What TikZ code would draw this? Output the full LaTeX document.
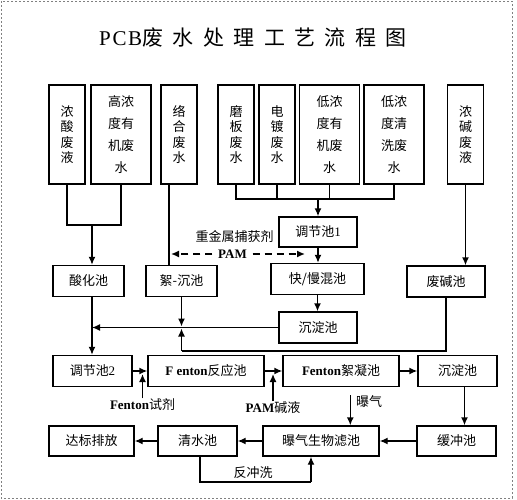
\documentclass[tikz,border=0pt]{standalone}
\usepackage{fontspec}
\setmainfont{Noto Sans CJK SC}
\newfontfamily\latin{Liberation Serif}
\newfontfamily\titlecjk[LetterSpace=45]{Noto Sans CJK SC}
\newfontfamily\titlelat[LetterSpace=8]{Liberation Serif}
\usetikzlibrary{arrows.meta,positioning}

\begin{document}
\begin{tikzpicture}[
			x=1pt,
			y=-1pt,
			>={Latex[length=8pt,width=7pt]},
			line width=1.4pt,
			every node/.style={
				inner sep=0pt,
				font=\fontsize{13}{14}\selectfont,
			},
			bloc/.style={
				draw,
				rectangle,
				minimum height=31pt,
			},
			src/.style={
				draw,
				rectangle,
				align=center,
				minimum width=36pt,
				minimum height=99pt,
				font=\fontsize{13}{15.5}\selectfont,
			},
			wsrc/.style={
				src,
				minimum width=60pt,
				font=\fontsize{13}{22}\selectfont,
			},
			lat/.style={
				font=\fontsize{13}{14}\selectfont\latin\bfseries,
			},
		]
		\useasboundingbox (0,0) rectangle (517,500);
		\draw[gray,line width=0.6pt,dash pattern=on 2pt off 2pt] (1,1) rectangle (512,498);

		\node(title) at (253,38) {\fontsize{21}{24}\selectfont{\titlelat PCB}\titlecjk 废水处理工艺流程图};

		\node[src] (s1) at (67,134.5) {浓\\酸\\废\\液};
		\node[wsrc] (s2) at (121,134.5) {高浓\\度有\\机废\\水};
		\node[src] (s3) at (179,134.5) {络\\合\\废\\水};
		\node[src] (s4) at (236,134.5) {磨\\板\\废\\水};
		\node[src] (s5) at (277,134.5) {电\\镀\\废\\水};
		\node[wsrc] (s6) at (329.5,134.5) {低浓\\度有\\机废\\水};
		\node[wsrc] (s7) at (394,134.5) {低浓\\度清\\洗废\\水};
		\node[src] (s8) at (465.5,134.5) {浓\\碱\\废\\液};

		\node[bloc,minimum width=78pt,minimum height=30pt] (tj1) at (318,232) {调节池{\latin 1}};
		\node[bloc,minimum width=71pt] (sh) at (88.5,281) {酸化池};
		\node[bloc,minimum width=71pt] (xc) at (181.5,281) {絮-沉池};
		\node[bloc,minimum width=93pt] (km) at (317.5,279) {快/慢混池};
		\node[bloc,minimum width=78pt] (fj) at (446,281.5) {废碱池};
		\node[bloc,minimum width=78pt] (cd1) at (318,327.5) {沉淀池};

		\node[bloc,minimum width=79pt] (tj2) at (92.5,371) {调节池{\latin 2}};
		\node[bloc,minimum width=116pt] (fr) at (206,371) {{\latin\bfseries F enton}反应池};
		\node[bloc,minimum width=116pt] (fx) at (341,371) {{\latin\bfseries Fenton}絮凝池};
		\node[bloc,minimum width=79pt] (cd2) at (457.5,371) {沉淀池};

		\node[bloc,minimum width=85pt,minimum height=30pt] (db) at (91.5,441) {达标排放};
		\node[bloc,minimum width=79pt,minimum height=30pt] (qs) at (197.5,441) {清水池};
		\node[bloc,minimum width=116pt,minimum height=30pt] (bq) at (321,441) {曝气生物滤池};
		\node[bloc,minimum width=79pt,minimum height=30pt] (hc) at (456.5,441) {缓冲池};

		\node (zj) at (234.5,237) {重金属捕获剂};
		\node[lat,inner sep=5pt] (pam) at (232.5,254) {PAM};
		\node (fs) at (142.5,405) {{\latin\bfseries Fenton}试剂};
		\node (pj) at (273,408) {{\latin\bfseries PAM}碱液};
		\node (pq) at (369,402) {曝气};
		\node (fc) at (253,473) {反冲洗};

		\coordinate (ja) at (92,225);
		\coordinate (jb) at (318,199);
		\coordinate (jc) at (181.5,351);
		\coordinate (jd) at (311,482);

		\draw (s1.south) |- (ja) -| (s2.south);
		\draw (ja) edge[->] (ja |- sh.north);
		\draw ([xshift=-10pt]s3.south) -- ([xshift=-10pt]s3.south |- xc.north);

		\draw (s4.south) |- (s7.south |- jb) -- (s7.south);
		\draw (s5.south) -- (s5.south |- jb);
		\draw (s6.south) -- (s6.south |- jb);
		\draw (jb) edge[->] (tj1.north);
		\draw (tj1.south) edge[->] (tj1.south |- km.north);

		\draw[dash pattern=on 7pt off 5pt] (pam.west) edge[->] ([xshift=-8pt]s3.south |- pam);
		\draw[dash pattern=on 7pt off 5pt] (pam.east) edge[->] ([xshift=-13pt]tj1.south |- pam);

		\draw (km.south) edge[->] (km.south |- cd1.north);
		\draw (s8.south) edge[->] (s8.south |- fj.north);
		\draw (ja |- sh.south) edge[->] (ja |- tj2.north);
		\draw (cd1.west) edge[->] (ja |- cd1.west);
		\draw (xc.south) edge[->,shorten >=1pt] (xc.south |- cd1.west);
		\draw (fj.south) |- (jc) edge[->,shorten >=1pt] (jc |- cd1.west);

		\draw (tj2) edge[->] (fr);
		\draw (fr) edge[->] (fx);
		\draw (fx) edge[->] (cd2);
		\draw (fs.north) edge[->,shorten >=3pt] (fs.north |- tj2.east);
		\draw (pj.north) edge[->,shorten >=3pt] (pj.north |- fr.east);
		\draw ([xshift=7pt]cd2.south) edge[->] ([xshift=7pt]cd2.south |- hc.north);

		\draw (hc) edge[->] (bq);
		\draw (bq) edge[->] (qs);
		\draw (qs) edge[->] (db);
		\draw ([xshift=-5pt]pq.north west) edge[->] ([xshift=-5pt]pq.north west |- bq.north);
		\draw ([xshift=2.5pt]qs.south) |- (jd) edge[->] (jd |- bq.south);

	\end{tikzpicture}
\end{document}
